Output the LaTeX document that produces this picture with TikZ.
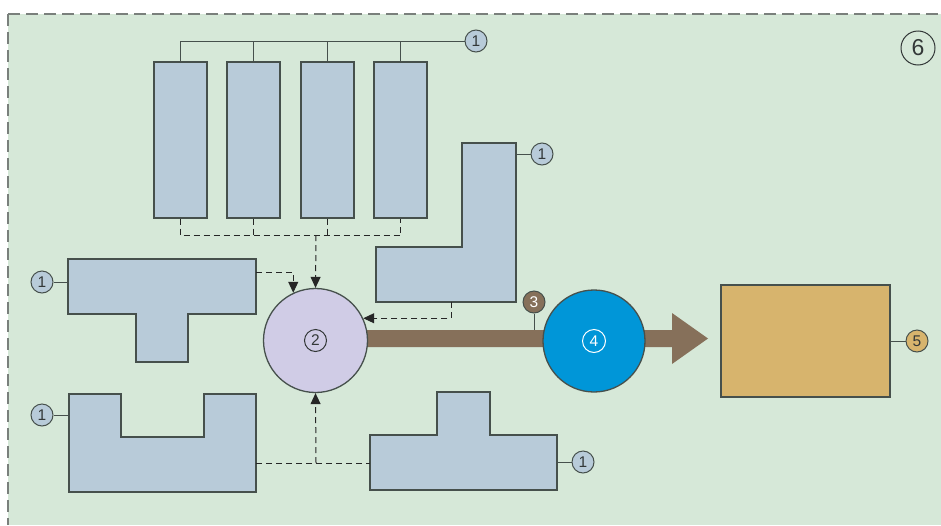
\documentclass[tikz,border=0pt]{standalone}
\usepackage{fontspec}
\setmainfont{Liberation Sans}
\usetikzlibrary{arrows.meta}
\definecolor{bggreen}{HTML}{D6E8D8}
\definecolor{partblue}{HTML}{B8CBD9}
\definecolor{edge}{HTML}{46504C}
\definecolor{hubfill}{HTML}{D0CCE6}
\definecolor{pumpblue}{HTML}{0096D8}
\definecolor{pipebrown}{HTML}{86705A}
\definecolor{tankorange}{HTML}{D7B46D}
\definecolor{framegrey}{HTML}{7A807C}
\definecolor{inktext}{HTML}{333838}
\begin{document}
\begin{tikzpicture}[x=1pt,y=-1pt,
  part/.style={draw=edge, fill=partblue, line width=1.3pt, line join=miter},
  tag/.style={circle, draw=edge, fill=partblue, line width=1pt, minimum size=22pt,
    inner sep=0pt, text=inktext, font=\fontsize{15.5}{15.5}\selectfont},
  lead/.style={draw=edge, line width=1pt},
  flow/.style={draw=black!85, line width=1pt, dash pattern=on 6pt off 4pt},
  flowarrow/.style={flow, -{Triangle[length=11pt,width=10pt]}},
  frame/.style={draw=framegrey, line width=1.6pt, dash pattern=on 12pt off 6pt}]

\useasboundingbox (0,0) rectangle (941,525);

% background field and dashed frame
\fill[bggreen] (8,14) rectangle (941,525);
\draw[frame] (8,14) -- (941,14);
\draw[frame] (8,14) -- (8,525);

% pipe with arrow head (drawn under the circles)
\fill[pipebrown] (340,330) -- (672,330) -- (672,313) -- (708,338.5)
  -- (672,364) -- (672,347) -- (340,347) -- cycle;

% four tall blocks
\foreach \i/\x in {1/180.5, 2/253.5, 3/327.5, 4/400.5}
  \node[part, rectangle, minimum width=53pt, minimum height=156pt, inner sep=0pt]
    (bat\i) at (\x,140) {};

% polygon parts
\draw[part] (68,259) -- (256,259) -- (256,314) -- (188,314) -- (188,362)
  -- (136,362) -- (136,314) -- (68,314) -- cycle;
\coordinate (teeAW) at (68,282);
\coordinate (teeAE) at (256,272);

\draw[part] (69,394) -- (121,394) -- (121,437) -- (204,437) -- (204,394)
  -- (256,394) -- (256,492) -- (69,492) -- cycle;
\coordinate (cupW) at (69,415);
\coordinate (cupE) at (256,463);

\draw[part] (370,435) -- (437,435) -- (437,392) -- (490,392) -- (490,435)
  -- (557,435) -- (557,490) -- (370,490) -- cycle;
\coordinate (teeBW) at (370,463);
\coordinate (teeBE) at (557,462);

\draw[part] (462,143) -- (516,143) -- (516,302) -- (376,302) -- (376,247)
  -- (462,247) -- cycle;
\coordinate (ellE) at (516,154);
\coordinate (ellS) at (451,302);

% central collector and pump
\node[circle, draw=edge, fill=hubfill, line width=1.3pt, minimum size=104pt,
  inner sep=0pt] (hub) at (315.5,340.5) {};
\node[circle, draw=inktext, line width=1pt, minimum size=22pt, inner sep=0pt,
  text=inktext, font=\fontsize{15.5}{15.5}\selectfont] (hubtag) at (hub) {2};

\node[circle, draw=edge, fill=pumpblue, line width=1.3pt, minimum size=102pt,
  inner sep=0pt] (pump) at (594,341) {};
\node[circle, draw=white, line width=1pt, minimum size=23pt, inner sep=0pt,
  text=white, font=\fontsize{15.5}{15.5}\selectfont] (pumptag) at (pump) {4};

% tank
\node[rectangle, draw=edge, fill=tankorange, line width=1.3pt,
  minimum width=169pt, minimum height=112pt, inner sep=0pt] (tank) at (805.5,341) {};

% number tags
\node[tag] (tagTop) at (476,41) {1};
\node[tag] (tagEll) at (542,154) {1};
\node[tag] (tagTeeA) at (42,282) {1};
\node[tag] (tagCup) at (42,415) {1};
\node[tag] (tagTeeB) at (583,462) {1};
\node[tag, fill=pipebrown, text=white] (tagMeter) at (534,302) {3};
\node[tag, fill=tankorange] (tagTank) at (917,341) {5};
\node[circle, draw=inktext, line width=1pt, minimum size=34pt, inner sep=0pt,
  text=inktext, font=\fontsize{23}{23}\selectfont] (tagField) at (918,48) {6};

% leader lines
\draw[lead] (bat1.north) |- (tagTop);
\foreach \i in {2,3,4}
  \draw[lead] (bat\i.north) -- (bat\i.north |- tagTop);
\draw[lead] (ellE) -- (tagEll);
\draw[lead] (teeAW) -- (tagTeeA);
\draw[lead] (cupW) -- (tagCup);
\draw[lead] (teeBE) -- (tagTeeB);
\draw[lead] (tank.east) -- (tagTank);
\coordinate (tap) at (534,330);
\draw[lead] (tagMeter) -- (tap);

% flows into the collector
\coordinate (busD) at (316,235);
\draw[flow] (bat1.south) -- ++(0,17) -| (bat4.south);
\foreach \i in {2,3}
  \draw[flow] (bat\i.south) -- (bat\i.south |- busD);
\draw[flowarrow] (busD) -- (hub.north);
\draw[flowarrow] (teeAE) -| (hub.115.6);
\draw[flowarrow] (ellS) |- (hub.25.6);
\coordinate (joinB) at (316,463);
\draw[flow] (cupE) -- (teeBW);
\draw[flowarrow] (joinB) -- (hub.south);
\end{tikzpicture}
\end{document}
